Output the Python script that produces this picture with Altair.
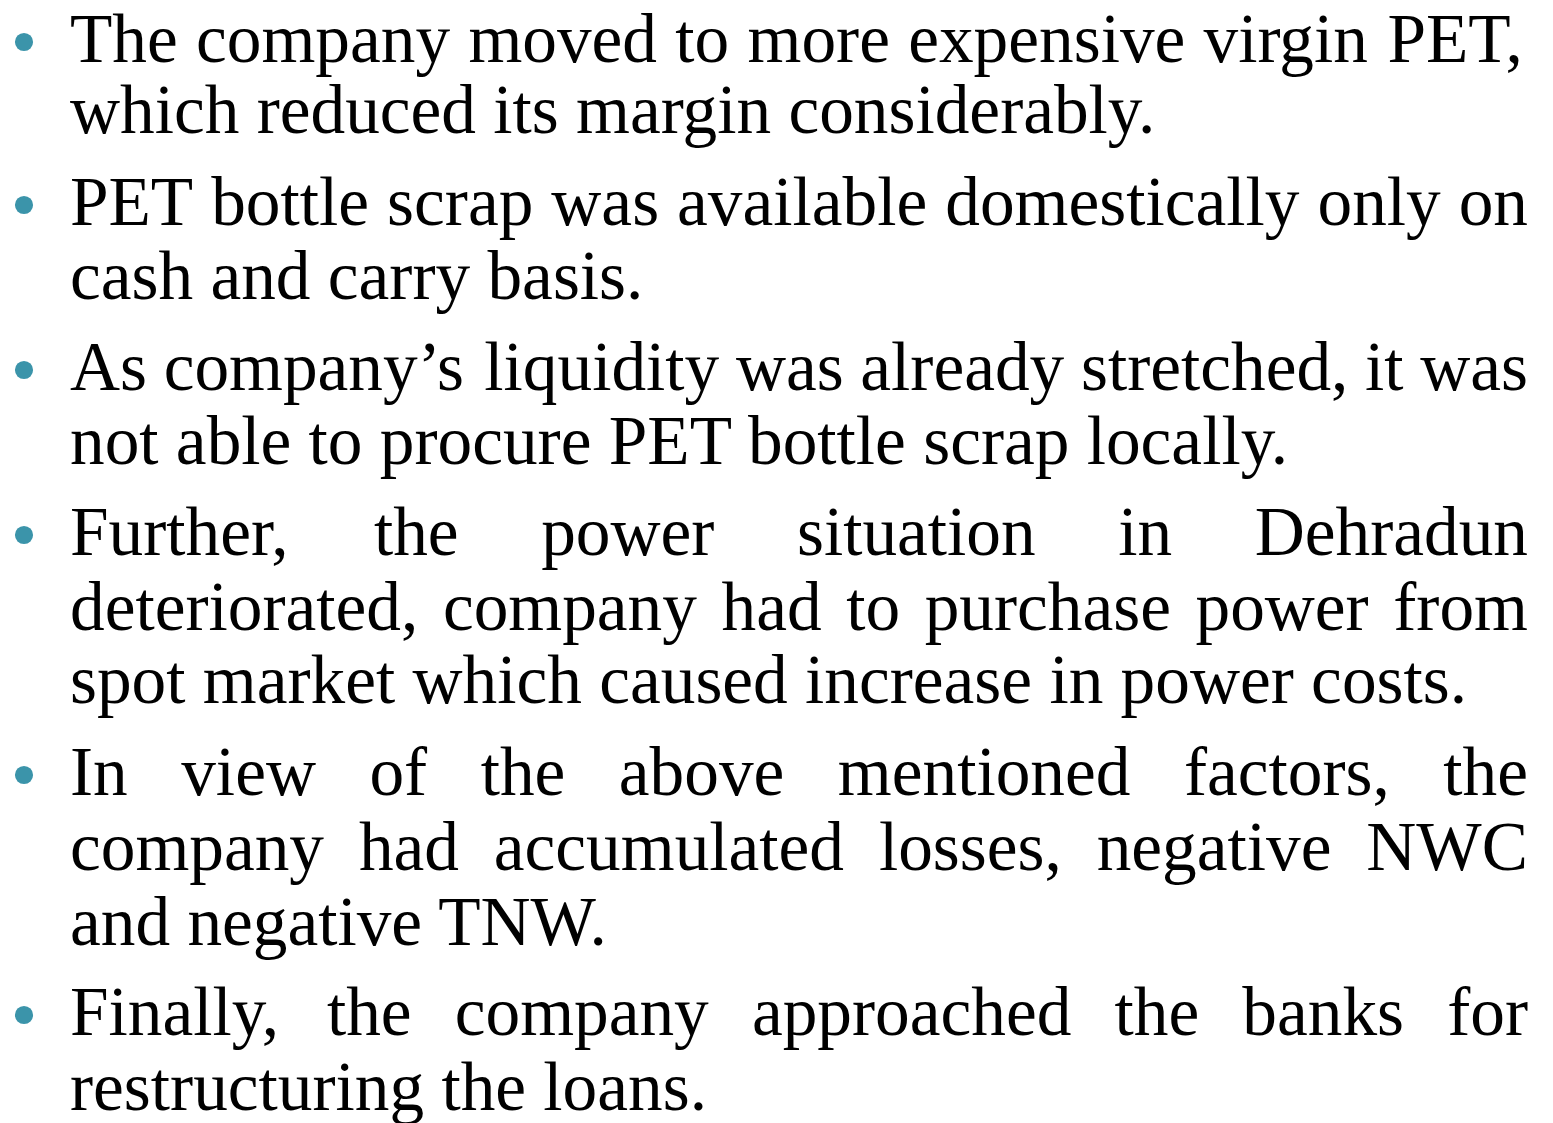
import altair as alt
import pandas as pd

# ---- content -------------------------------------------------------------
bullet_lines = [
    ["The company moved to more expensive virgin PET,",
     "which reduced its margin considerably."],
    ["PET bottle scrap was available domestically only on",
     "cash and carry basis."],
    ["As company\u2019s liquidity was already stretched, it was",
     "not able to procure PET bottle scrap locally."],
    ["Further, the power situation in Dehradun",
     "deteriorated, company had to purchase power from",
     "spot market which caused increase in power costs."],
    ["In view of the above mentioned factors, the",
     "company had accumulated losses, negative NWC",
     "and negative TNW."],
    ["Finally, the company approached the banks for",
     "restructuring the loans."],
]
# baselines of each line (reference pixel rows)
line_baselines = [
    [62, 133],
    [225, 299],
    [390, 464],
    [555, 630, 703],
    [795, 870, 945],
    [1035, 1110],
]

# ---- layout helpers ------------------------------------------------------
FONT = "Liberation Serif"
FS = 69.3
TEXT_LEFT, TEXT_RIGHT = 70, 1528
BULLET_X = 24
BULLET_COLOR = "#3B94AA"

# Times New Roman / Liberation Serif advance widths (per 1000 em)
ADV = {
    'a': 444, 'b': 500, 'c': 444, 'd': 500, 'e': 444, 'f': 333, 'g': 500, 'h': 500,
    'i': 278, 'j': 278, 'k': 500, 'l': 278, 'm': 778, 'n': 500, 'o': 500, 'p': 500,
    'q': 500, 'r': 333, 's': 389, 't': 278, 'u': 500, 'v': 500, 'w': 722, 'x': 500,
    'y': 500, 'z': 444,
    'A': 722, 'B': 667, 'C': 667, 'D': 722, 'E': 611, 'F': 556, 'G': 722, 'H': 722,
    'I': 333, 'J': 389, 'K': 722, 'L': 611, 'M': 889, 'N': 722, 'O': 722, 'P': 556,
    'Q': 722, 'R': 667, 'S': 556, 'T': 611, 'U': 722, 'V': 722, 'W': 944, 'X': 722,
    'Y': 722, 'Z': 611,
    ' ': 250, ',': 250, '.': 250, '\u2019': 333,
}


def text_width(s):
    return sum(ADV.get(ch, 500) for ch in s) * FS / 1000.0


word_rows, line_rows, bullet_rows = [], [], []
for lines, bases in zip(bullet_lines, line_baselines):
    bullet_rows.append({"x": BULLET_X, "y": bases[0] - 20})
    for i, (line, base) in enumerate(zip(lines, bases)):
        justified = i < len(lines) - 1
        if justified:
            words = line.split(" ")
            widths = [text_width(w) for w in words]
            gap = (TEXT_RIGHT - TEXT_LEFT - sum(widths)) / (len(words) - 1)
            cur = TEXT_LEFT
            for w, wd in zip(words, widths):
                word_rows.append({"x": cur, "y": base, "t": w})
                cur += wd + gap
        else:
            line_rows.append({"x": TEXT_LEFT, "y": base, "t": line})

words_df = pd.DataFrame(word_rows)
lines_df = pd.DataFrame(line_rows)
bullets_df = pd.DataFrame(bullet_rows)

W, H = 1536, 1115
xs = alt.Scale(domain=[8, 8 + W], nice=False, zero=False)
ys = alt.Scale(domain=[8 + H, 8], nice=False, zero=False)

words_layer = alt.Chart(words_df).mark_text(
    font=FONT, fontSize=FS, align="left", baseline="alphabetic", color="#000000"
).encode(
    x=alt.X("x:Q", scale=xs, axis=None),
    y=alt.Y("y:Q", scale=ys, axis=None),
    text="t:N",
)

lines_layer = alt.Chart(lines_df).mark_text(
    font=FONT, fontSize=FS, align="left", baseline="alphabetic", color="#000000"
).encode(
    x=alt.X("x:Q", scale=xs, axis=None),
    y=alt.Y("y:Q", scale=ys, axis=None),
    text="t:N",
)

bullets_layer = alt.Chart(bullets_df).mark_circle(
    color=BULLET_COLOR, opacity=1
).encode(
    x=alt.X("x:Q", scale=xs, axis=None),
    y=alt.Y("y:Q", scale=ys, axis=None),
    size=alt.value(330),
)

chart = alt.layer(bullets_layer, words_layer, lines_layer).properties(
    width=W, height=H, autosize="none", padding=0, background="white"
).configure_view(stroke=None)

chart.save("out.html", embed_options={"renderer": "svg", "actions": False})
